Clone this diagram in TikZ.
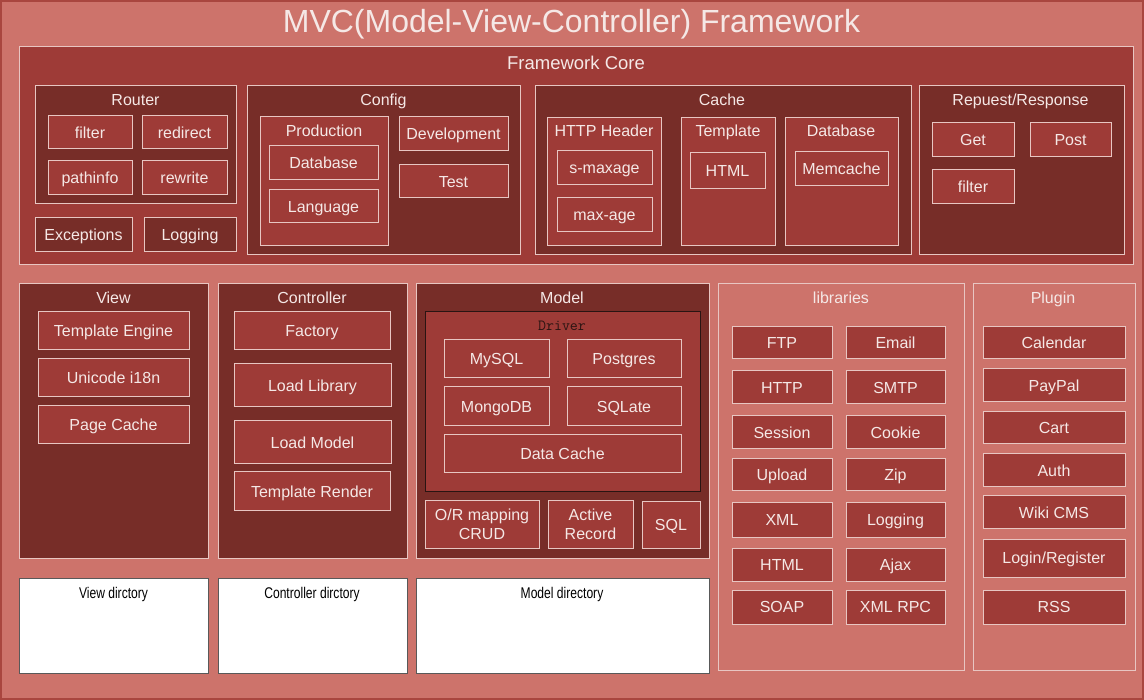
\documentclass[tikz,border=0pt]{standalone}
\usepackage{fontspec}
\setmainfont{Liberation Sans}
\newfontfamily\dirfont[FakeStretch=0.78]{Liberation Sans}
\usetikzlibrary{positioning}

\definecolor{bgred}{HTML}{CD736B}
\definecolor{edgered}{HTML}{A9463F}
\definecolor{midred}{HTML}{9E3B37}
\definecolor{darkred}{HTML}{772D28}
\definecolor{lineclr}{HTML}{E8C6C2}
\definecolor{txtclr}{HTML}{F5E8E6}
\definecolor{drvclr}{HTML}{2A1412}

\tikzset{
  sz/.style 2 args={minimum width=#1pt, minimum height=#2pt, inner sep=0pt, line width=1pt},
  core/.style={draw=lineclr, fill=midred},
  group/.style={draw=lineclr, fill=darkred},
  panel/.style={draw=lineclr, fill=bgred},
  itembase/.style={draw=lineclr, fill=midred, text=txtclr, align=center,
    font=\fontsize{16}{19}\selectfont},
  item/.style={itembase, text height=11.4pt, text depth=0pt},
  darkitem/.style={item, fill=darkred},
  grptitle/.style={text=txtclr, font=\fontsize{16}{17}\selectfont, inner sep=0pt,
    text height=11.4pt, text depth=0pt},
  dirbox/.style={draw=black!65, fill=white},
  dirtitle/.style={font=\dirfont\fontsize{15.5}{16}\selectfont, inner sep=0pt,
    text height=11pt, text depth=0pt}
}

\begin{document}
\begin{tikzpicture}[x=1pt,y=-1pt]
\useasboundingbox (0,0) rectangle (1144,700);
\node[sz={1142}{698}, draw=edgered, fill=bgred, line width=2pt] (frame) at (572,350) {};
\node[text=txtclr, font=\fontsize{32}{34}\selectfont, inner sep=0pt, anchor=base] (title) at (571.5,33) {MVC(Model-View-Controller) Framework};

%% framework core
\node[sz={1114}{218}, core] (fcore) at (576,156) {};
\node[grptitle, font=\fontsize{18.5}{20}\selectfont, text height=13.3pt] (fcoreT) at (576,63) {Framework Core};

\node[sz={201}{118}, group] (router) at (135.5,145) {};
\node[grptitle] (routerT) at (135.5,100) {Router};
\node[sz={84}{33}, item] (rfilter) at (90,132.5) {filter};
\node[sz={85}{33}, item] (redirect) at (184.5,132.5) {redirect};
\node[sz={84}{34}, item] (pathinfo) at (90,178) {pathinfo};
\node[sz={85}{34}, item] (rewrite) at (184.5,178) {rewrite};
\node[sz={97}{34}, darkitem] (exceptions) at (83.5,235) {Exceptions};
\node[sz={92}{34}, darkitem] (clogging) at (190,235) {Logging};

\node[sz={273}{169}, group] (config) at (383.5,170.5) {};
\node[grptitle] (configT) at (383.5,100) {Config};
\node[sz={128}{129}, core] (production) at (324,181.5) {};
\node[grptitle] (productionT) at (324,131) {Production};
\node[sz={109}{34}, item] (pdatabase) at (323.5,163) {Database};
\node[sz={109}{33}, item] (language) at (323.5,206.5) {Language};
\node[sz={109}{34}, item] (development) at (453.5,134) {Development};
\node[sz={109}{33}, item] (test) at (453.5,181.5) {Test};

\node[sz={376}{169}, group] (cache) at (723,170.5) {};
\node[grptitle] (cacheT) at (722,100) {Cache};
\node[sz={114}{128}, core] (httpheader) at (604,182) {};
\node[grptitle] (httpheaderT) at (604,131) {HTTP Header};
\node[sz={95}{34}, item] (smaxage) at (604.5,168) {s-maxage};
\node[sz={95}{34}, item] (maxage) at (604.5,215) {max-age};
\node[sz={94}{128}, core] (template) at (728,182) {};
\node[grptitle] (templateT) at (728,131) {Template};
\node[sz={75}{36}, item] (chtml) at (727.5,171) {HTML};
\node[sz={113}{128}, core] (cdatabase) at (841.5,182) {};
\node[grptitle] (cdatabaseT) at (841,131) {Database};
\node[sz={93}{34}, item] (memcache) at (841.5,169) {Memcache};

\node[sz={205}{169}, group] (reqres) at (1021.5,170.5) {};
\node[grptitle] (reqresT) at (1020.5,100) {Repuest/Response};
\node[sz={82}{34}, item] (get) at (973,140) {Get};
\node[sz={81}{34}, item] (post) at (1070.5,140) {Post};
\node[sz={82}{34}, item] (qfilter) at (973,187) {filter};

%% view
\node[sz={189}{274}, group] (view) at (113.5,421) {};
\node[grptitle] (viewT) at (113.5,298) {View};
\node[sz={151}{38}, item] (tengine) at (113.5,331) {Template Engine};
\node[sz={151}{38}, item] (unicode) at (113.5,378) {Unicode i18n};
\node[sz={151}{38}, item] (pagecache) at (113.5,425) {Page Cache};

%% controller
\node[sz={189}{274}, group] (controller) at (312.5,421) {};
\node[grptitle] (controllerT) at (312,298) {Controller};
\node[sz={156}{38}, item] (factory) at (312,331) {Factory};
\node[sz={157}{43}, item] (loadlib) at (312.5,385.5) {Load Library};
\node[sz={157}{43}, item] (loadmodel) at (312.5,442.5) {Load Model};
\node[sz={156}{39}, item] (trender) at (312,491.5) {Template Render};

%% model
\node[sz={293}{274}, group] (model) at (562.5,421) {};
\node[grptitle] (modelT) at (562,298) {Model};
\node[sz={275}{180}, core, draw=drvclr] (driver) at (562.5,402) {};
\node[text=drvclr, font=\ttfamily\fontsize{15.5}{16}\selectfont, inner sep=0pt,
  text height=9.5pt, text depth=0pt] (driverT) at (562,326) {Driver};
\node[sz={105}{38}, item] (mysql) at (496.5,359) {MySQL};
\node[sz={114}{38}, item] (postgres) at (624,359) {Postgres};
\node[sz={105}{39}, item] (mongodb) at (496.5,406.5) {MongoDB};
\node[sz={114}{39}, item] (sqlate) at (624,406.5) {SQLate};
\node[sz={237}{38}, item] (datacache) at (562.5,454) {Data Cache};
\node[sz={114}{47}, itembase] (ormap) at (482,524.5) {O/R mapping\\CRUD};
\node[sz={85}{47}, itembase] (arecord) at (590.5,524.5) {Active\\Record};
\node[sz={58}{46}, item] (sql) at (671,525) {SQL};

%% libraries
\node[sz={246}{386}, panel] (libraries) at (841,477) {};
\node[grptitle] (librariesT) at (841,298) {libraries};
\node[sz={100}{32}, item] (ftp) at (782,343) {FTP};
\node[sz={99}{32}, item] (email) at (895.5,343) {Email};
\node[sz={100}{33}, item] (http) at (782,387.5) {HTTP};
\node[sz={99}{33}, item] (smtp) at (895.5,387.5) {SMTP};
\node[sz={100}{33}, item] (session) at (782,432.5) {Session};
\node[sz={99}{33}, item] (cookie) at (895.5,432.5) {Cookie};
\node[sz={100}{32}, item] (upload) at (782,475) {Upload};
\node[sz={99}{32}, item] (zip) at (895.5,475) {Zip};
\node[sz={100}{34}, item] (xml) at (782,520) {XML};
\node[sz={99}{34}, item] (llogging) at (895.5,520) {Logging};
\node[sz={100}{33}, item] (lhtml) at (782,564.5) {HTML};
\node[sz={99}{33}, item] (ajax) at (895.5,564.5) {Ajax};
\node[sz={100}{34}, item] (soap) at (782,607) {SOAP};
\node[sz={99}{34}, item] (xmlrpc) at (895.5,607) {XML RPC};

%% plugin
\node[sz={162}{386}, panel] (plugin) at (1054,477) {};
\node[grptitle] (pluginT) at (1053,298) {Plugin};
\node[sz={142}{32}, item] (calendar) at (1054,343) {Calendar};
\node[sz={142}{33}, item] (paypal) at (1054,385.5) {PayPal};
\node[sz={142}{32}, item] (cart) at (1054,428) {Cart};
\node[sz={142}{33}, item] (auth) at (1054,470.5) {Auth};
\node[sz={142}{33}, item] (wiki) at (1054,512.5) {Wiki CMS};
\node[sz={142}{38}, item] (login) at (1054,558) {Login/Register};
\node[sz={142}{34}, item] (rss) at (1054,607) {RSS};

%% directories
\node[sz={189}{95}, dirbox] (viewdir) at (113.5,625.5) {};
\node[dirtitle] (viewdirT) at (113.5,592.5) {View dirctory};
\node[sz={189}{95}, dirbox] (ctrldir) at (312.5,625.5) {};
\node[dirtitle] (ctrldirT) at (312,592.5) {Controller dirctory};
\node[sz={293}{95}, dirbox] (modeldir) at (562.5,625.5) {};
\node[dirtitle] (modeldirT) at (562,592.5) {Model directory};
\end{tikzpicture}
\end{document}
